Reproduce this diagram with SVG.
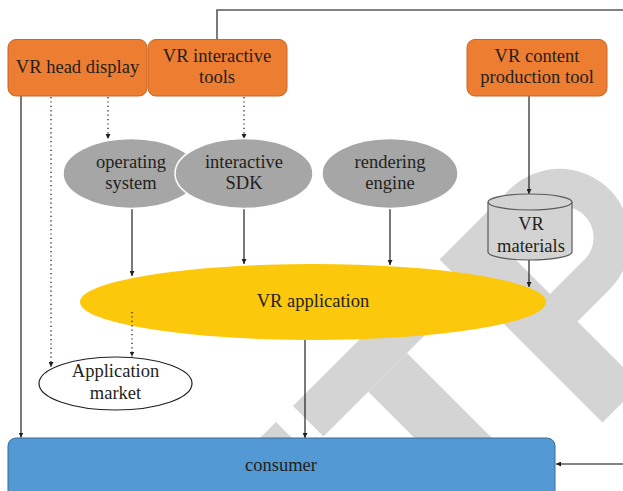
<svg xmlns="http://www.w3.org/2000/svg" width="623" height="491" viewBox="0 0 623 491">
<style>
text{font-family:"Liberation Serif","Times New Roman",serif;font-size:18.5px;fill:#231F20;text-anchor:middle}
.box{fill:#ED7D31;stroke:#C4672C;stroke-width:1}
.oval{fill:#A6A6A6;stroke:#FFFFFF;stroke-width:1.5}
.ln{fill:none;stroke:#231F20;stroke-width:1.2}
.dot{fill:none;stroke:#231F20;stroke-width:1.3;stroke-dasharray:1.2 3.2}
.gl{fill:none;stroke:#5A5A5A;stroke-width:1.6}
.wm{fill:#D4D4D4}
</style>
<defs>
<marker id="ah" viewBox="0 0 6 6" refX="6" refY="3" markerWidth="5" markerHeight="5" markerUnits="userSpaceOnUse" orient="auto">
<path d="M0,0 L6,3 L0,6 Z" fill="#231F20"/>
</marker>
</defs>
<rect width="623" height="491" fill="#FFFFFF"/>
<g id="watermark" transform="matrix(0.5,-0.5,0.5,0.5,0,0)">
<rect class="wm" x="-113" y="699" width="256" height="61"/>
<rect class="wm" x="-23.5" y="760" width="77.5" height="300"/>
<rect class="wm" x="-260" y="698" width="114" height="62"/>
<path class="wm" fill-rule="evenodd" d="M180,699 H320 A100,100 0 0 1 320,899 H256 V1025 H180 Z M256,756 H325 A44,44 0 0 1 325,844 H256 Z"/>
</g>
<g id="connectors">
<path class="gl" d="M217,39 V10 H623"/>
<path class="gl" d="M623,464 H556" marker-end="url(#ah)"/>
<path class="ln" d="M21,96 V437.5" marker-end="url(#ah)"/>
<path class="dot" d="M51,97 V367" marker-end="url(#ah)"/>
<path class="dot" d="M108,97 V139" marker-end="url(#ah)"/>
<path class="dot" d="M244,97 V139" marker-end="url(#ah)"/>
<path class="ln" d="M132,208 V276" marker-end="url(#ah)"/>
<path class="ln" d="M244,208 V264" marker-end="url(#ah)"/>
<path class="ln" d="M390,208 V265" marker-end="url(#ah)"/>
<path class="ln" d="M529,96 V194" marker-end="url(#ah)"/>
<path class="ln" d="M529,260 V287" marker-end="url(#ah)"/>
</g>
<g id="vr-head-display">
<rect class="box" x="8" y="39.5" width="139" height="56.5" rx="8"/>
<text x="77.5" y="73">VR head display</text>
</g>
<g id="vr-interactive-tools">
<rect class="box" x="148" y="39.5" width="139" height="56.5" rx="8"/>
<text x="217" y="62">VR interactive</text>
<text x="217" y="83">tools</text>
</g>
<g id="vr-content-production-tool">
<rect class="box" x="467" y="39.5" width="140" height="56.5" rx="8"/>
<text x="537" y="62">VR content</text>
<text x="537" y="83">production tool</text>
</g>
<g id="operating-system">
<ellipse class="oval" cx="131" cy="173.5" rx="68" ry="35"/>
<text x="131" y="168">operating</text>
<text x="131" y="189">system</text>
</g>
<g id="interactive-sdk">
<ellipse class="oval" cx="244" cy="173.5" rx="69" ry="35"/>
<text x="244" y="168">interactive</text>
<text x="244" y="189">SDK</text>
</g>
<g id="rendering-engine">
<ellipse class="oval" cx="390" cy="173.5" rx="68" ry="35"/>
<text x="390" y="168">rendering</text>
<text x="390" y="189">engine</text>
</g>
<g id="vr-materials">
<path d="M488,202 V252 A42,8 0 0 0 572,252 V202" fill="#D3D3D3" stroke="#5A5A5A" stroke-width="1.2"/>
<ellipse cx="530" cy="202" rx="42" ry="8" fill="#D3D3D3" stroke="#5A5A5A" stroke-width="1.2"/>
<text x="531" y="230">VR</text>
<text x="531" y="252">materials</text>
</g>
<g id="vr-application">
<ellipse cx="313" cy="302" rx="233" ry="38" fill="#FCC80C"/>
<text x="313" y="307">VR application</text>
</g>
<g id="connectors-2">
<path class="dot" d="M132,312 V356.5" marker-end="url(#ah)"/>
<path class="ln" d="M305,340 V438" marker-end="url(#ah)"/>
</g>
<g id="application-market">
<ellipse cx="115.5" cy="383.5" rx="76.5" ry="26.5" fill="#FFFFFF" stroke="#231F20" stroke-width="1.2"/>
<text x="115.5" y="377">Application</text>
<text x="115.5" y="399">market</text>
</g>
<g id="consumer">
<rect x="8" y="438" width="547" height="70" rx="8" fill="#5399D3" stroke="#3A6D9A" stroke-width="1"/>
<text x="281" y="471">consumer</text>
</g>
</svg>
